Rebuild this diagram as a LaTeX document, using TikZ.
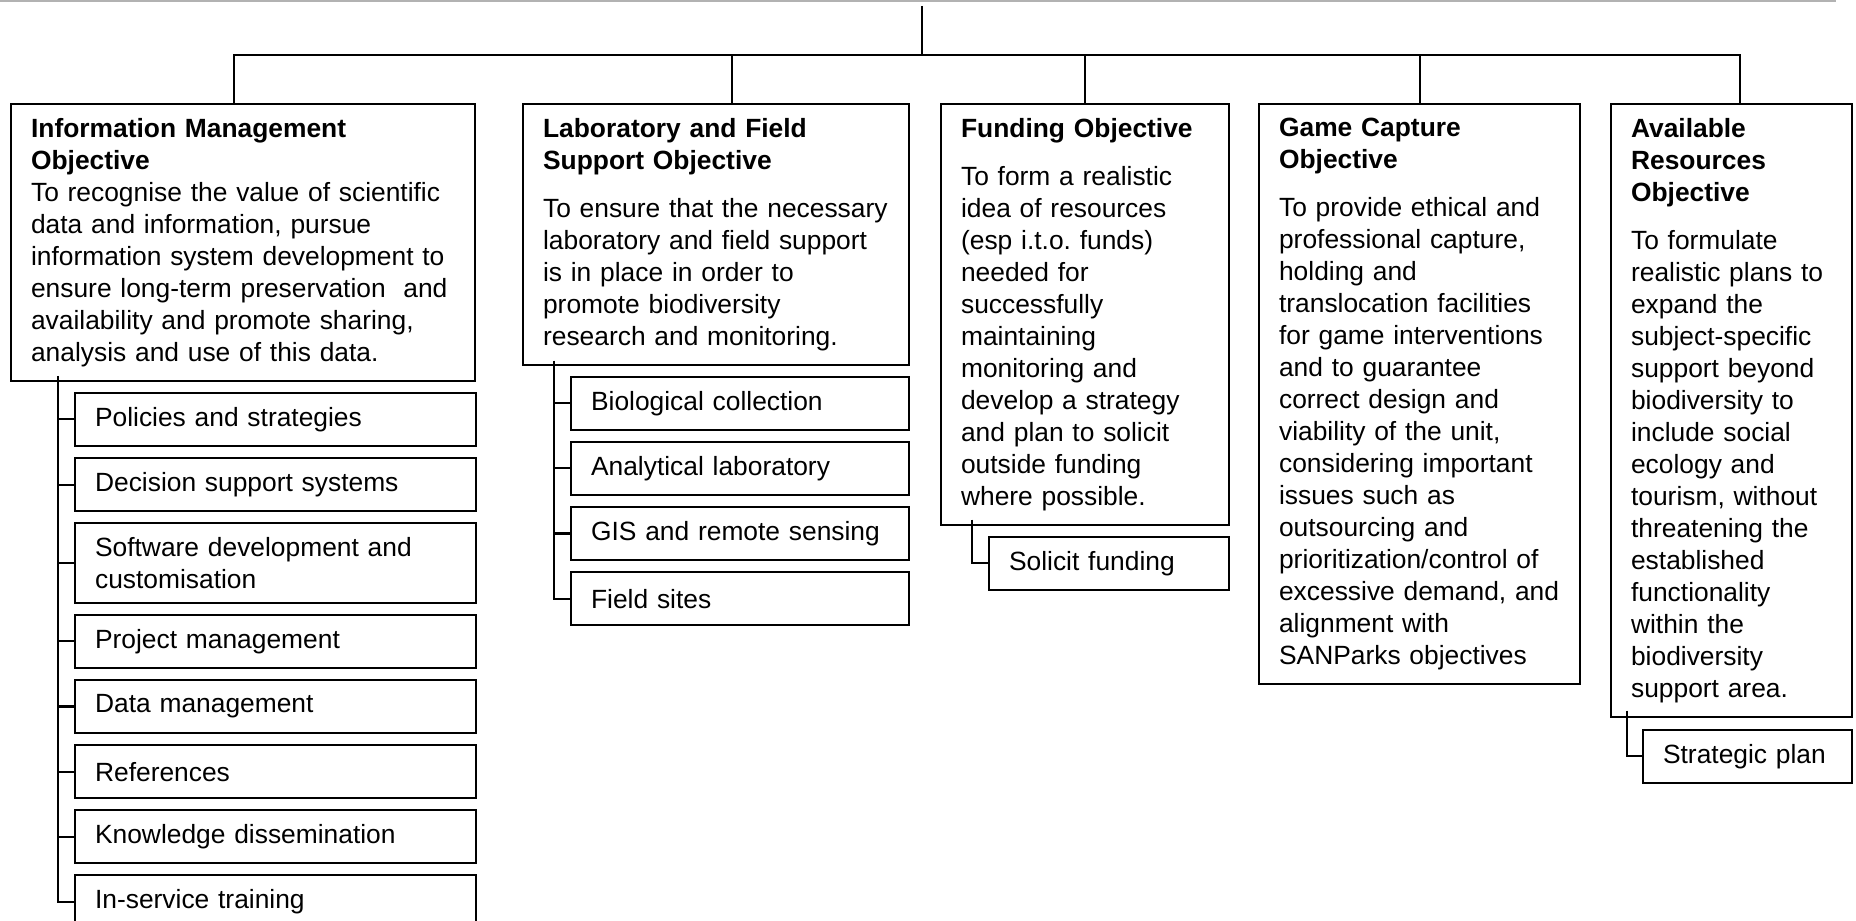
\documentclass[tikz,border=0pt]{standalone}
\usepackage{fontspec}
\setmainfont{Liberation Sans}
\usetikzlibrary{positioning}
\frenchspacing
\begin{document}
\begin{tikzpicture}[x=0.01cm,y=-0.01cm,line width=0.6pt,
  font=\fontsize{7.5}{9.1}\selectfont,
  obj/.style={draw,anchor=north west,align=left,inner xsep=0.2cm,inner ysep=4pt,text width=#1},
  task/.style={draw,align=left,inner xsep=0.2cm,inner ysep=4pt,minimum height=0.53cm,text width=#1}]
\useasboundingbox (0,0) rectangle (1856,921);
\draw[gray!60] (0,1) -- (1836,1);
\coordinate (root) at (922,6);
\coordinate (bus) at (922,55);
\node[obj=4.24cm] (im) at (10,103) {\textbf{Information Management}\\\textbf{Objective}\\To recognise the value of scientific\\data and information, pursue\\information system development to\\ensure long-term preservation~ and\\availability and promote sharing,\\analysis and use of this data.};
\node[obj=3.46cm] (lab) at (522,103) {\textbf{Laboratory and Field}\\\textbf{Support Objective}\\[4.5pt]To ensure that the necessary\\laboratory and field support\\is in place in order to\\promote biodiversity\\research and monitoring.};
\node[obj=2.48cm] (fund) at (940,103) {\textbf{Funding Objective}\\[4.5pt]To form a realistic\\idea of resources\\(esp i.t.o. funds)\\needed for\\successfully\\maintaining\\monitoring and\\develop a strategy\\and plan to solicit\\outside funding\\where possible.};
\node[obj=2.81cm] (game) at (1258,103) {\textbf{Game Capture}\\\textbf{Objective}\\[4.5pt]To provide ethical and\\professional capture,\\holding and\\translocation facilities\\for game interventions\\and to guarantee\\correct design and\\viability of the unit,\\considering important\\issues such as\\outsourcing and\\prioritization/control of\\excessive demand, and\\alignment with\\SANParks objectives};
\node[obj=2.01cm] (avail) at (1610,103) {\textbf{Available}\\\textbf{Resources}\\\textbf{Objective}\\[4.5pt]To formulate\\realistic plans to\\expand the\\subject-specific\\support beyond\\biodiversity to\\include social\\ecology and\\tourism, without\\threatening the\\established\\functionality\\within the\\biodiversity\\support area.};
\draw (root) -- (bus);
\foreach \b/\dx in {im/-9,lab/16,fund/0,game/0,avail/8}
  \draw (bus) -| ([xshift=\dx*0.01cm]\b.north);
\node[task=3.61cm,anchor=north west] (pol) at ([shift={(64,10)}]im.south west) {Policies and strategies};
\node[task=3.61cm,below=0.1cm of pol] (dec) {Decision support systems};
\node[task=3.61cm,below=0.1cm of dec] (sw) {Software development and\\customisation};
\node[task=3.61cm,below=0.1cm of sw] (pm) {Project management};
\node[task=3.61cm,below=0.1cm of pm] (dm) {Data management};
\node[task=3.61cm,below=0.1cm of dm] (ref) {References};
\node[task=3.61cm,below=0.1cm of ref] (kd) {Knowledge dissemination};
\node[task=3.61cm,below=0.1cm of kd] (ist) {In-service training};
\draw ([shift={(48,-6)}]im.south west) |- (ist.west);
\foreach \k in {pol,dec,sw,pm,dm,ref,kd}
  \draw (\k.west) -- ++(-16,0);
\node[task=2.98cm,anchor=north west] (bio) at ([shift={(48,10)}]lab.south west) {Biological collection};
\node[task=2.98cm,below=0.1cm of bio] (ana) {Analytical laboratory};
\node[task=2.98cm,below=0.1cm of ana] (gis) {GIS and remote sensing};
\node[task=2.98cm,below=0.1cm of gis] (fs) {Field sites};
\draw ([shift={(32,-5)}]lab.south west) |- (fs.west);
\foreach \k in {bio,ana,gis}
  \draw (\k.west) -- ++(-16,0);
\node[task=2.00cm,anchor=north west] (sol) at ([shift={(48,10)}]fund.south west) {Solicit funding};
\draw ([shift={(32,-6)}]fund.south west) |- (sol.west);
\node[task=1.69cm,anchor=north west] (sp) at ([shift={(32,11)}]avail.south west) {Strategic plan};
\draw ([shift={(17,-7)}]avail.south west) |- (sp.west);
\end{tikzpicture}
\end{document}
